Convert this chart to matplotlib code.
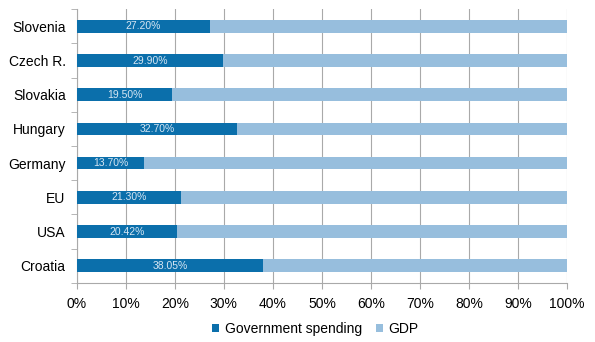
import numpy as np
import matplotlib.pyplot as plt

countries = ['Slovenia', 'Czech R.', 'Slovakia', 'Hungary', 'Germany', 'EU', 'USA', 'Croatia']
gov_spending = [27.20, 29.90, 19.50, 32.70, 13.70, 21.30, 20.42, 38.05]
gdp = [100 - v for v in gov_spending]

plt.rcParams['font.family'] = ['Liberation Sans', 'DejaVu Sans']

dark = '#0b6fab'
light = '#97bedd'
grid_col = '#a9a9a9'

fig = plt.figure(figsize=(5.95, 3.42), dpi=100)
ax = fig.add_axes([0.129, 0.173, 0.824, 0.80])

y = np.arange(len(countries))
h = 0.37
ax.barh(y, gov_spending, height=h, color=dark, label='Government spending', zorder=3)
ax.barh(y, gdp, left=gov_spending, height=h, color=light, label='GDP', zorder=3)

for yi, v in zip(y, gov_spending):
    ax.text(v / 2, yi, f'{v:.2f}%', ha='center', va='center', fontsize=7.5,
            color='#d6e6f3', zorder=4)

ax.set_xlim(0, 100)
ax.set_ylim(len(countries) - 0.5, -0.5)
ax.set_xticks(np.arange(0, 101, 10))
ax.set_xticklabels([f'{t}%' for t in range(0, 101, 10)], fontsize=10)
ax.set_yticks(y)
ax.set_yticklabels(countries, fontsize=10)
ax.set_yticks(np.arange(-0.5, len(countries), 1), minor=True)
ax.tick_params(axis='y', which='major', length=0, pad=8)
ax.tick_params(axis='y', which='minor', length=4, color=grid_col)
ax.tick_params(axis='x', length=4, color=grid_col, pad=6)

ax.grid(axis='x', color=grid_col, linewidth=0.8, zorder=0)
for s in ['top', 'right']:
    ax.spines[s].set_visible(False)
for s in ['left', 'bottom']:
    ax.spines[s].set_color(grid_col)

fig.legend(loc='lower center', bbox_to_anchor=(0.53, -0.02), ncol=2, frameon=False,
           fontsize=10, handlelength=0.5, handleheight=0.5, handletextpad=0.4,
           columnspacing=1.0)

fig.savefig('out.png', dpi=100)
